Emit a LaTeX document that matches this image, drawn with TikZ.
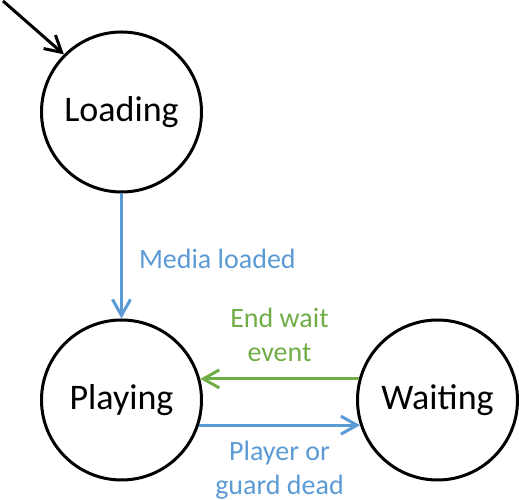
\documentclass[tikz,border=0pt]{standalone}
\usepackage{fontspec}
\setmainfont{Carlito}
\usetikzlibrary{arrows.meta}
\definecolor{mediablue}{HTML}{5B9BD5}
\definecolor{eventgreen}{HTML}{70AD47}

\begin{document}
\begin{tikzpicture}[x=1pt,y=1pt,
    state/.style={draw, circle, line width=3pt, minimum size=160pt,
      inner sep=0pt, font=\fontsize{36}{42}\selectfont},
    trans/.style={line width=3pt, -{Straight Barb[length=16pt,width=18pt]}},
    lbl/.style={font=\fontsize{28}{34}\selectfont, align=center, inner sep=0pt}]
    \useasboundingbox (0,0) rectangle (519,500);
    \node[state] (loading) at (121.5,388) {Loading};
    \node[state] (playing) at (121.5,100) {Playing};
    \node[state] (waiting) at (437.5,100) {Waiting};
    \coordinate (start) at (3,499);
    \draw[trans, black] (start) -- (loading.135);
    \draw[trans, mediablue] (loading) -- node[lbl, right=16pt, yshift=-3pt] {Media loaded} (playing);
    \draw[trans, eventgreen] (waiting.165) -- node[lbl, above=16pt] {End wait\\event} (playing.15);
    \draw[trans, mediablue] (playing.-18) -- node[lbl, below=14pt] {Player or\\guard dead} (waiting.198);
\end{tikzpicture}
\end{document}
